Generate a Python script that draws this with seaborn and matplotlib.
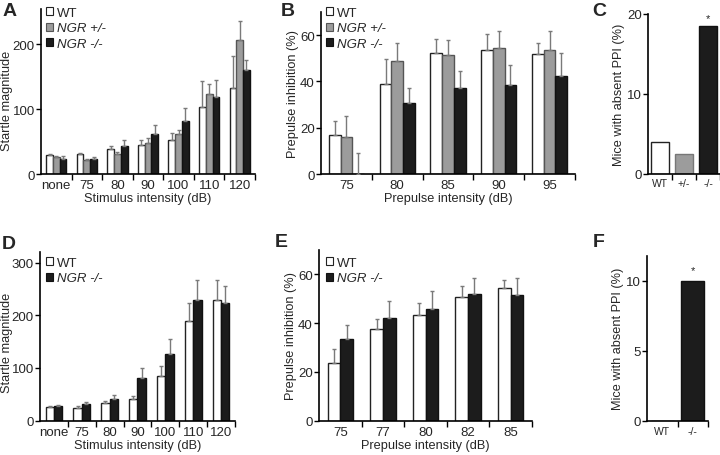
import numpy as np
import pandas as pd
import matplotlib
matplotlib.use("Agg")
import matplotlib.pyplot as plt
import seaborn as sns
from matplotlib.patches import Patch

sns.set_theme(style="white")
plt.rcParams["font.family"] = ["Liberation Sans", "DejaVu Sans"]

# ---------------- data ----------------
a_cats = ["none", "75", "80", "90", "100", "110", "120"]
a_wt = [29, 31, 38, 45, 52, 103, 133]
a_wt_top = [31, 32, 43, 53, 63, 143, 181]
a_het = [26, 22, 31, 47, 61, 123, 206]
a_het_top = [28, 23, 34, 55, 68, 138, 235]
a_ko = [23, 23, 43, 61, 81, 119, 160]
a_ko_top = [27, 26, 52, 76, 101, 145, 176]

b_cats = ["75", "80", "85", "90", "95"]
b_wt = [16.9, 39.0, 52.5, 53.6, 51.9]
b_wt_top = [22.7, 49.7, 58.5, 60.5, 56.6]
b_het = [16.0, 49.0, 51.6, 54.5, 53.6]
b_het_top = [25.1, 56.4, 57.8, 61.8, 61.8]
b_ko = [0.0, 30.6, 37.1, 38.6, 42.2]
b_ko_top = [9.2, 37.1, 44.7, 47.0, 52.2]

c_cats = ["WT", "+/-", "-/-"]
c_vals = [4.0, 2.4, 18.4]

d_cats = ["none", "75", "80", "90", "100", "110", "120"]
d_wt = [26.6, 24.7, 32.9, 40.5, 84.2, 188.6, 229]
d_wt_top = [28.5, 27.2, 38.0, 47.5, 103.8, 222.8, 267.7]
d_ko = [27.8, 31.6, 40.5, 81.6, 126, 229.7, 223.4]
d_ko_top = [30.4, 35.4, 49.4, 100.6, 155, 266.5, 255]

e_cats = ["75", "77", "80", "82", "85"]
e_wt = [23.5, 37.5, 43.5, 50.6, 54.3]
e_wt_top = [29.2, 41.5, 48.4, 55.1, 57.6]
e_ko = [33.4, 42.0, 46.0, 52.1, 51.5]
e_ko_top = [39.3, 49.2, 53.2, 58.7, 58.4]

f_cats = ["WT", "-/-"]
f_vals = [0.0, 10.0]

groups3 = ["WT", "NGR +/-", "NGR -/-"]
groups2 = ["WT", "NGR -/-"]

FILL = {"WT": "#ffffff", "NGR +/-": "#9c9c9c", "NGR -/-": "#1c1c1c",
        "+/-": "#9c9c9c", "-/-": "#1c1c1c"}
EDGE = {"WT": "#222222", "NGR +/-": "#555555", "NGR -/-": "#111111",
        "+/-": "#777777", "-/-": "#111111"}
ECOL = "#7a7a7a"

TFS = 9.5   # tick labels
LFS = 9.2   # axis labels

W, H = 720, 456
fig = plt.figure(figsize=(7.2, 4.56), dpi=100)


def add_ax(left, right, top, bottom):
    return fig.add_axes([left / W, 1 - bottom / H, (right - left) / W, (bottom - top) / H])


def style(ax, n, ylim, yticks, ylabel, xlabel, xfs=TFS):
    ax.set_xlim(-0.5, n - 0.5)
    ax.set_ylim(*ylim)
    ax.set_yticks(yticks)
    ax.set_yticklabels([str(t) for t in yticks], fontsize=TFS)
    for lab in ax.get_xticklabels():
        lab.set_fontsize(xfs)
    ax.set_xticks(np.arange(0.5, n, 1.0), minor=True)
    ax.tick_params(axis="x", which="major", length=0, pad=3.5, bottom=True)
    ax.tick_params(axis="x", which="minor", length=4, width=1, direction="out", bottom=True, color="black")
    ax.tick_params(axis="y", which="major", length=3.5, width=1, direction="out", left=True, pad=1, color="black")
    for s in ["top", "right"]:
        ax.spines[s].set_visible(False)
    for s in ["left", "bottom"]:
        ax.spines[s].set_color("black")
        ax.spines[s].set_linewidth(1.2)
    ax.set_ylabel(ylabel, fontsize=LFS, labelpad=1)
    ax.set_xlabel(xlabel, fontsize=LFS, labelpad=1)


def grouped(ax, cats, groups, vals, tops, width):
    rows = []
    for g, v in zip(groups, vals):
        for c, y in zip(cats, v):
            rows.append({"cat": c, "group": g, "val": y})
    df = pd.DataFrame(rows)
    sns.barplot(data=df, x="cat", y="val", hue="group", order=cats, hue_order=groups,
                palette=[FILL[g] for g in groups], width=width, errorbar=None,
                legend=False, ax=ax, linewidth=1, edgecolor="black", saturation=1)
    for cont, g, top in zip(ax.containers, groups, tops):
        for bar, t in zip(cont, top):
            bar.set_edgecolor(EDGE[g])
            x = bar.get_x() + bar.get_width() / 2
            h = bar.get_height()
            ax.errorbar(x, h, yerr=[[0], [t - h]], fmt="none", ecolor=ECOL,
                        elinewidth=1, capsize=1.3, capthick=1, zorder=3)


def legend(ax, groups, xpix, ypix):
    handles = [Patch(facecolor=FILL[g], edgecolor=EDGE[g], linewidth=0.8, label=g) for g in groups]
    leg = ax.legend(handles=handles, loc="upper left", bbox_to_anchor=(xpix / W, 1 - ypix / H),
                    bbox_transform=fig.transFigure, frameon=False, fontsize=9.5,
                    handlelength=0.55, handleheight=0.55, handletextpad=0.3,
                    labelspacing=0.25, borderpad=0, borderaxespad=0)
    for t in leg.get_texts():
        if "NGR" in t.get_text():
            t.set_style("italic")


def simple(ax, cats, vals, width):
    df = pd.DataFrame({"cat": cats, "val": vals})
    sns.barplot(data=df, x="cat", y="val", hue="cat", order=cats, hue_order=cats,
                palette=[FILL[c] for c in cats], width=width, errorbar=None,
                legend=False, ax=ax, linewidth=1, edgecolor="black", saturation=1)
    for cont, c in zip(ax.containers, cats):
        for bar in cont:
            bar.set_edgecolor(EDGE[c])


# ---------------- A ----------------
axA = add_ax(41, 255, 10, 175)
grouped(axA, a_cats, groups3, [a_wt, a_het, a_ko], [a_wt_top, a_het_top, a_ko_top], 0.66)
style(axA, len(a_cats), (0, 254), [0, 100, 200], "Startle magnitude", "Stimulus intensity (dB)")
axA.yaxis.set_label_coords((13 - 41) / 214, 0.45)
legend(axA, groups3, 46, 8)

# ---------------- B ----------------
axB = add_ax(321, 575, 13, 175)
grouped(axB, b_cats, groups3, [b_wt, b_het, b_ko], [b_wt_top, b_het_top, b_ko_top], 0.69)
style(axB, len(b_cats), (0, 70), [0, 20, 40, 60], "Prepulse inhibition (%)", "Prepulse intensity (dB)")
legend(axB, groups3, 326, 8)

# ---------------- C ----------------
axC = add_ax(648, 720, 14.5, 174.5)
simple(axC, c_cats, c_vals, 0.75)
style(axC, len(c_cats), (0, 20), [0, 10, 20], "Mice with absent PPI (%)", "", xfs=7.5)
axC.text(2, 19.4, "*", ha="center", va="center", fontsize=8)

# ---------------- D ----------------
axD = add_ax(40, 235, 253, 421.7)
grouped(axD, d_cats, groups2, [d_wt, d_ko], [d_wt_top, d_ko_top], 0.6)
style(axD, len(d_cats), (0, 320), [0, 100, 200, 300], "Startle magnitude", "Stimulus intensity (dB)")
axD.yaxis.set_label_coords((13 - 40) / 195, 0.47)
legend(axD, groups2, 46, 258)

# ---------------- E ----------------
axE = add_ax(319, 532, 251, 421.7)
grouped(axE, e_cats, groups2, [e_wt, e_ko], [e_wt_top, e_ko_top], 0.6)
style(axE, len(e_cats), (0, 70), [0, 20, 40, 60], "Prepulse inhibition (%)", "Prepulse intensity (dB)")
legend(axE, groups2, 326, 258)

# ---------------- F ----------------
axF = add_ax(647, 708, 256.7, 421.7)
simple(axF, f_cats, f_vals, 0.76)
style(axF, len(f_cats), (0, 11.8), [0, 5, 10], "Mice with absent PPI (%)", "", xfs=7.5)
axF.text(1, 10.8, "*", ha="center", va="center", fontsize=8)

# panel letters
for letter, x, y in [("A", 3, 3), ("B", 281, 3), ("C", 592, 3),
                     ("D", 2, 236), ("E", 275, 234), ("F", 593, 234)]:
    fig.text(x / W, 1 - y / H, letter, ha="left", va="top", fontsize=14, fontweight="bold")

fig.savefig("out.png", dpi=100)
